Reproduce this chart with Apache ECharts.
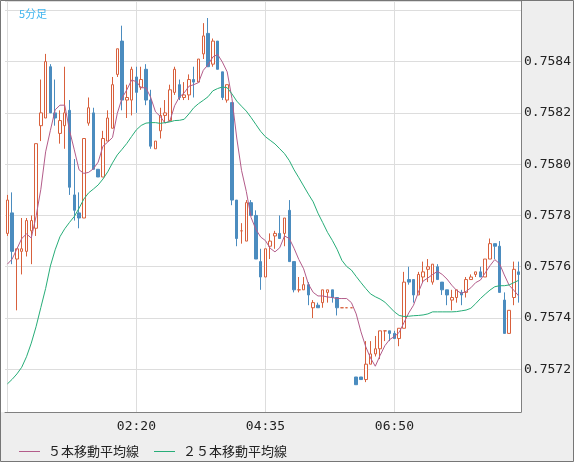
<!DOCTYPE html>
<html lang="ja">
<head>
<meta charset="UTF-8">
<title>5分足</title>
<style>
  html, body { margin: 0; padding: 0; background: #fff; }
  #chart { width: 574px; height: 462px; }
</style>
</head>
<body>
<div id="chart"></div>
<script src="https://cdn.jsdelivr.net/npm/echarts@6/dist/echarts.min.js"></script>
<script>
// 5分足 00:05 - 09:00
const times = [
  '00:05','00:10','00:15','00:20','00:25','00:30','00:35','00:40','00:45','00:50','00:55',
  '01:00','01:05','01:10','01:15','01:20','01:25','01:30','01:35','01:40','01:45','01:50','01:55',
  '02:00','02:05','02:10','02:15','02:20','02:25','02:30','02:35','02:40','02:45','02:50','02:55',
  '03:00','03:05','03:10','03:15','03:20','03:25','03:30','03:35','03:40','03:45','03:50','03:55',
  '04:00','04:05','04:10','04:15','04:20','04:25','04:30','04:35','04:40','04:45','04:50','04:55',
  '05:00','05:05','05:10','05:15','05:20','05:25','05:30','05:35','05:40','05:45','05:50','05:55',
  '06:00','06:05','06:10','06:15','06:20','06:25','06:30','06:35','06:40','06:45','06:50','06:55',
  '07:00','07:05','07:10','07:15','07:20','07:25','07:30','07:35','07:40','07:45','07:50','07:55',
  '08:00','08:05','08:10','08:15','08:20','08:25','08:30','08:35','08:40','08:45','08:50','08:55',
  '09:00'
]

const opens = [
  0.75773,0.75781,0.75763,0.75766,0.75766,0.75774,0.75775,0.75815,0.75818,0.75838,
  0.75820,0.75812,0.75815,0.75821,0.75788,0.75781,0.75779,0.75816,0.75820,0.75798,
  0.75795,0.75809,0.75814,0.75835,0.75848,0.75825,0.75825,0.75834,0.75830,0.75837,
  0.75825,0.75806,0.75813,0.75819,0.75817,0.75828,0.75831,0.75826,0.75827,0.75833,
  0.75832,0.75843,0.75851,0.75839,0.75848,0.75836,0.75825,0.75824,0.75786,0.75774,
  0.75770,0.75785,0.75780,0.75762,0.75756,0.75768,0.75772,0.75773,0.75773,0.75782,
  0.75762,0.75751,0.75751,0.75753,0.75744,0.75745,0.75746,0.75750,0.75751,0.75748,
  0.75744,0.75744,0.75744,0.75717,0.75717,0.75716,0.75722,0.75726,0.75728,0.75735,
  0.75735,0.75734,0.75732,0.75736,0.75755,0.75755,0.75749,0.75756,0.75759,0.75754,
  0.75760,0.75754,0.75751,0.75747,0.75748,0.75750,0.75750,0.75755,0.75757,0.75758,
  0.75756,0.75763,0.75769,0.75768,0.75747,0.75734,0.75748,0.75758
]
const closes = [
  0.75786,0.75766,0.75767,0.75767,0.75778,0.75778,0.75808,0.75820,0.75840,0.75820,
  0.75818,0.75817,0.75820,0.75791,0.75782,0.75779,0.75810,0.75822,0.75798,0.75795,
  0.75810,0.75818,0.75831,0.75845,0.75825,0.75826,0.75837,0.75828,0.75833,0.75825,
  0.75807,0.75809,0.75819,0.75820,0.75829,0.75837,0.75826,0.75827,0.75833,0.75832,
  0.75841,0.75850,0.75838,0.75848,0.75837,0.75826,0.75831,0.75786,0.75771,0.75774,
  0.75785,0.75780,0.75763,0.75756,0.75767,0.75770,0.75773,0.75771,0.75779,0.75762,
  0.75751,0.75751,0.75753,0.75749,0.75746,0.75744,0.75751,0.75751,0.75748,0.75744,
  0.75744,0.75744,0.75744,0.75714,0.75716,0.75722,0.75726,0.75728,0.75735,0.75735,
  0.75734,0.75732,0.75736,0.75754,0.75754,0.75749,0.75757,0.75758,0.75760,0.75761,
  0.75755,0.75751,0.75749,0.75748,0.75751,0.75749,0.75755,0.75756,0.75758,0.75756,
  0.75763,0.75769,0.75768,0.75750,0.75734,0.75743,0.75759,0.75757
]
const lows = [
  0.75772,0.75761,0.75743,0.75757,0.75764,0.75761,0.75772,0.75809,0.75818,0.75820,
  0.75815,0.75808,0.75806,0.75788,0.75778,0.75775,0.75779,0.75815,0.75798,0.75795,
  0.75795,0.75809,0.75814,0.75834,0.75821,0.75818,0.75819,0.75820,0.75829,0.75823,
  0.75806,0.75806,0.75810,0.75816,0.75817,0.75827,0.75825,0.75825,0.75825,0.75826,
  0.75832,0.75841,0.75838,0.75838,0.75837,0.75825,0.75824,0.75784,0.75768,0.75769,
  0.75770,0.75780,0.75763,0.75751,0.75756,0.75763,0.75767,0.75771,0.75768,0.75762,
  0.75750,0.75750,0.75751,0.75745,0.75740,0.75744,0.75744,0.75746,0.75746,0.75741,
  0.75744,0.75744,0.75744,0.75714,0.75716,0.75715,0.75722,0.75725,0.75724,0.75731,
  0.75731,0.75732,0.75729,0.75736,0.75753,0.75746,0.75749,0.75754,0.75754,0.75753,
  0.75755,0.75749,0.75745,0.75743,0.75746,0.75745,0.75748,0.75755,0.75756,0.75756,
  0.75756,0.75763,0.75763,0.75750,0.75734,0.75734,0.75745,0.75746
]
const highs = [
  0.75788,0.75789,0.75767,0.75779,0.75779,0.75780,0.75808,0.75833,0.75843,0.75839,
  0.75833,0.75821,0.75838,0.75825,0.75802,0.75789,0.75810,0.75826,0.75822,0.75798,
  0.75813,0.75821,0.75834,0.75845,0.75854,0.75831,0.75838,0.75838,0.75838,0.75839,
  0.75829,0.75809,0.75822,0.75825,0.75831,0.75838,0.75833,0.75832,0.75835,0.75838,
  0.75841,0.75855,0.75857,0.75849,0.75848,0.75836,0.75831,0.75824,0.75786,0.75777,
  0.75786,0.75786,0.75782,0.75767,0.75767,0.75773,0.75774,0.75780,0.75779,0.75786,
  0.75762,0.75756,0.75756,0.75754,0.75747,0.75746,0.75751,0.75751,0.75751,0.75748,
  0.75744,0.75744,0.75744,0.75717,0.75717,0.75731,0.75731,0.75733,0.75735,0.75735,
  0.75735,0.75735,0.75736,0.75758,0.75760,0.75755,0.75758,0.75762,0.75763,0.75761,
  0.75761,0.75754,0.75751,0.75751,0.75751,0.75751,0.75756,0.75757,0.75758,0.75760,
  0.75763,0.75771,0.75769,0.75770,0.75750,0.75743,0.75762,0.75762
]

// 移動平均線（チャートから読み取り）
const ma5 = [
  0.757610,0.757630,0.757670,0.757710,0.757728,0.757712,0.757796,0.757902,0.758048,0.758132,
  0.758212,0.758230,0.758230,0.758132,0.758056,0.757978,0.757964,0.757968,0.757982,0.758008,
  0.758070,0.758086,0.758104,0.758198,0.758258,0.758290,0.758328,0.758322,0.758298,0.758298,
  0.758260,0.758204,0.758186,0.758160,0.758168,0.758228,0.758262,0.758278,0.758304,0.758310,
  0.758318,0.758366,0.758388,0.758418,0.758428,0.758398,0.758360,0.758256,0.758102,0.757976,
  0.757894,0.757792,0.757746,0.757716,0.757702,0.757672,0.757658,0.757674,0.757720,0.757710,
  0.757672,0.757628,0.757592,0.757532,0.757500,0.757486,0.757486,0.757482,0.757480,0.757476,
  0.757476,0.757476,0.757460,0.757416,0.757346,0.757288,0.757244,0.757212,0.757254,0.757292,
  0.757316,0.757328,0.757344,0.757382,0.757420,0.757450,0.757500,0.757544,0.757556,0.757570,
  0.757582,0.757570,0.757552,0.757528,0.757508,0.757496,0.757504,0.757518,0.757538,0.757548,
  0.757576,0.757604,0.757628,0.757612,0.757568,0.757528,0.757508,0.757486
]
const ma25 = [
  0.757143,0.757161,0.757182,0.757208,0.757249,0.757302,0.757366,0.757441,0.757515,0.757603,
  0.757666,0.757717,0.757748,0.757773,0.757796,0.757828,0.757864,0.757888,0.757903,0.757919,
  0.757942,0.757970,0.758005,0.758036,0.758058,0.758081,0.758108,0.758134,0.758151,0.758160,
  0.758162,0.758162,0.758159,0.758162,0.758165,0.758170,0.758171,0.758175,0.758196,0.758220,
  0.758236,0.758249,0.758263,0.758286,0.758295,0.758301,0.758298,0.758274,0.758246,0.758226,
  0.758207,0.758182,0.758155,0.758128,0.758107,0.758093,0.758079,0.758060,0.758041,0.758014,
  0.757978,0.757947,0.757915,0.757883,0.757853,0.757809,0.757772,0.757734,0.757703,0.757668,
  0.757625,0.757601,0.757587,0.757562,0.757538,0.757515,0.757494,0.757483,0.757474,0.757462,
  0.757443,0.757424,0.757410,0.757406,0.757407,0.757409,0.757410,0.757412,0.757416,0.757424,
  0.757424,0.757424,0.757424,0.757424,0.757425,0.757428,0.757431,0.757438,0.757456,0.757476,
  0.757493,0.757509,0.757522,0.757526,0.757526,0.757529,0.757538,0.757547
]

const upColor = '#d8603c'
const downColor = '#4b8cbf'
const ma5Color = '#b35c8a'
const ma25Color = '#27ad78'

const candles = opens.map((o, i) => [o, closes[i], lows[i], highs[i]])

const chart = echarts.init(document.getElementById('chart'))

const option = {
  animation: false,
  backgroundColor: '#eeeeee',
  title: {
    text: '5分足',
    left: 14,
    top: 3,
    textStyle: { color: '#3fb4ee', fontSize: 11, fontWeight: 'normal', fontFamily: 'Noto Sans CJK JP' }
  },
  legend: {
    left: 14,
    top: 440,
    icon: 'rect',
    itemWidth: 21,
    itemHeight: 1,
    itemGap: 15,
    textStyle: { color: '#222', fontSize: 13, fontFamily: 'Noto Sans CJK JP', padding: [0, 0, 0, 3] },
    data: ['５本移動平均線', '２５本移動平均線']
  },
  grid: {
    left: 5,
    right: 52,
    top: 1,
    bottom: 50,
    show: true,
    backgroundColor: '#fff',
    borderWidth: 0
  },
  xAxis: {
    type: 'category',
    data: times,
    boundaryGap: true,
    axisLine: { show: true, lineStyle: { color: '#808080' } },
    axisTick: { show: false },
    axisLabel: {
      interval: (i) => i > 0 && i % 27 === 0,
      color: '#222',
      fontFamily: 'DejaVu Sans Mono',
      fontSize: 13,
      margin: 8
    },
    splitLine: {
      show: true,
      alignWithLabel: true,
      interval: (i) => i % 27 === 0,
      lineStyle: { color: '#dddddd' }
    }
  },
  yAxis: {
    type: 'value',
    position: 'right',
    min: 0.7570335,
    max: 0.7586363,
    splitNumber: 8,
    axisLine: { show: true, lineStyle: { color: '#808080' } },
    axisTick: { show: false },
    axisLabel: {
      showMinLabel: false,
      showMaxLabel: false,
      color: '#222',
      fontFamily: 'DejaVu Sans Mono',
      fontSize: 13,
      margin: 3,
      formatter: (v) => (v > 0.7585 ? '' : v.toFixed(4))
    },
    splitLine: { lineStyle: { color: '#dddddd' } }
  },
  graphic: [
    { type: 'rect', silent: true, z: -1, shape: { x: 1, y: 1, width: 5, height: 411 }, style: { fill: '#fff' } },
    { type: 'rect', silent: true, z: 100, shape: { x: 0.5, y: 0.5, width: 573, height: 461 }, style: { fill: 'none', stroke: '#767676', lineWidth: 1 } }
  ],
  series: [
    {
      type: 'candlestick',
      data: candles,
      barWidth: 3,
      itemStyle: {
        color: '#fff',
        color0: downColor,
        borderColor: upColor,
        borderColor0: downColor,
        borderWidth: 1
      }
    },
    {
      name: '５本移動平均線',
      type: 'line',
      data: ma5,
      showSymbol: false,
      lineStyle: { width: 1, color: ma5Color },
      itemStyle: { color: ma5Color }
    },
    {
      name: '２５本移動平均線',
      type: 'line',
      data: ma25,
      showSymbol: false,
      lineStyle: { width: 1, color: ma25Color },
      itemStyle: { color: ma25Color }
    }
  ]
}

chart.setOption(option)
</script>
</body>
</html>
